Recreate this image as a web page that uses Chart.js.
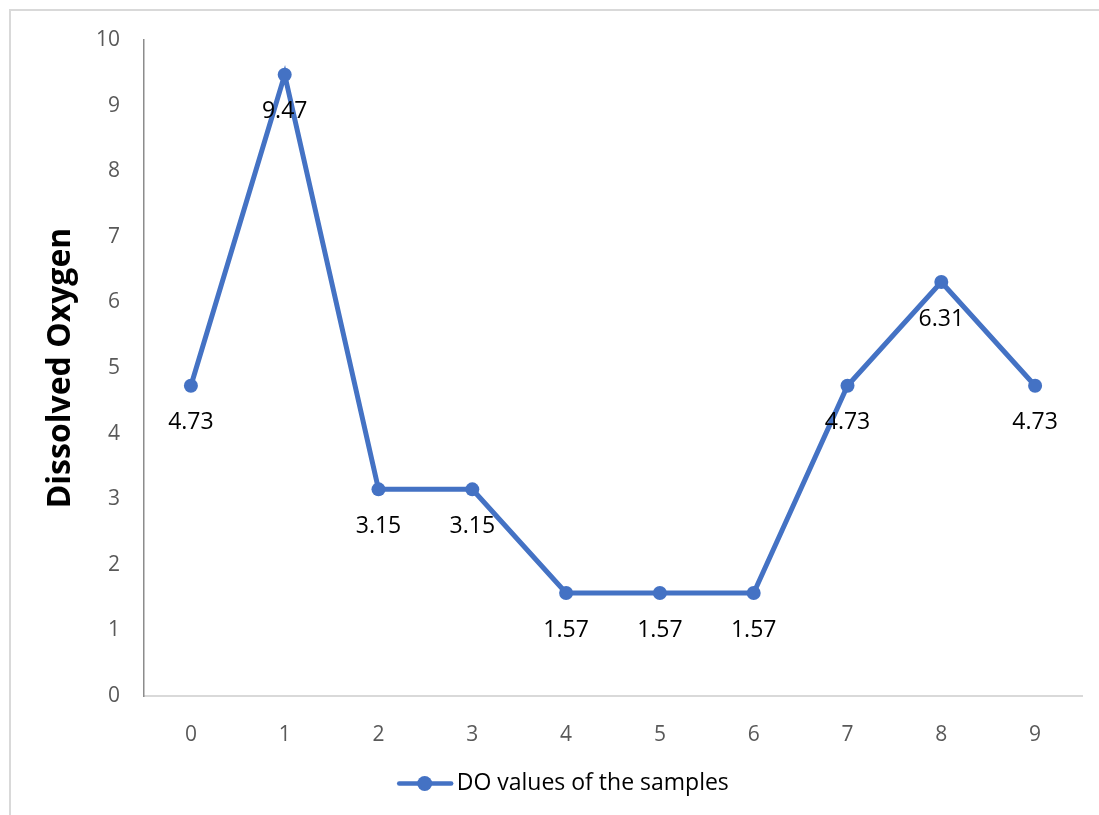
<!DOCTYPE html>
<html lang="en">
<head>
    <meta charset="UTF-8">
    <title>Dissolved Oxygen</title>
    <script src="https://cdn.jsdelivr.net/npm/chart.js"></script>
    <style>
        html, body { margin: 0; padding: 0; background: #fff; overflow: hidden; }
        .frame {
            position: absolute; left: 9px; top: 9px; width: 1300px; height: 1000px;
            border: 2px solid #d9d9d9; box-sizing: border-box;
        }
        .chart-box { position: absolute; left: 0; top: 0; width: 1099px; height: 815px; }
    </style>
</head>
<body>
    <div class="frame"></div>
    <div class="chart-box"><canvas id="doChart" width="1099" height="815"></canvas></div>

    <script>
        const sampleLabels = ["0", "1", "2", "3", "4", "5", "6", "7", "8", "9"];
        const doValues = [4.73, 9.47, 3.15, 3.15, 1.57, 1.57, 1.57, 4.73, 6.31, 4.73];
        const yTicks = [0, 1, 2, 3, 4, 5, 6, 7, 8, 9, 10];
        const seriesName = "DO values of the samples";
        const blue = "#4472C4";
        const font = "'Open Sans', 'Liberation Sans', sans-serif";

        // value labels under each point, plus the line+dot marker of the legend
        const labelPlugin = {
            id: "valueLabels",
            afterLayout(chart) {
                // legend sits a bit right of the chart centre in the original
                const lg = chart.legend;
                lg.left += 22;
                lg.right += 22;
            },
            afterDatasetsDraw(chart) {
                const ctx = chart.ctx;
                const meta = chart.getDatasetMeta(0);
                ctx.save();
                ctx.font = "23px " + font;
                ctx.fillStyle = "#000";
                ctx.textAlign = "center";
                ctx.textBaseline = "middle";
                meta.data.forEach((pt, i) => {
                    ctx.fillText(doValues[i].toFixed(2), pt.x, pt.y + 37);
                });
                ctx.restore();
            },
            afterDraw(chart) {
                const lg = chart.legend;
                if (!lg || !lg.legendHitBoxes) return;
                const ctx = chart.ctx;
                lg.legendHitBoxes.forEach(box => {
                    const x0 = box.left;
                    const cy = box.top + box.height / 2;
                    ctx.save();
                    ctx.strokeStyle = blue;
                    ctx.lineWidth = 4.5;
                    ctx.lineCap = "round";
                    ctx.beginPath();
                    ctx.moveTo(x0 + 2, cy);
                    ctx.lineTo(x0 + 54, cy);
                    ctx.stroke();
                    ctx.fillStyle = blue;
                    ctx.beginPath();
                    ctx.arc(x0 + 27.5, cy, 7.5, 0, Math.PI * 2);
                    ctx.fill();
                    ctx.restore();
                });
            }
        };

        const ctx = document.getElementById("doChart").getContext("2d");
        new Chart(ctx, {
            type: "line",
            data: {
                labels: sampleLabels,
                datasets: [{
                    label: seriesName,
                    data: doValues,
                    borderColor: blue,
                    backgroundColor: blue,
                    borderWidth: 5,
                    pointRadius: 7,
                    pointBackgroundColor: blue,
                    pointBorderWidth: 0,
                    tension: 0,
                    fill: false
                }]
            },
            options: {
                responsive: false,
                animation: false,
                layout: { padding: { left: 0, right: 17, top: 40, bottom: 10 } },
                plugins: {
                    tooltip: { enabled: false },
                    legend: {
                        position: "bottom",
                        labels: {
                            boxWidth: 48,
                            boxHeight: 5,
                            color: "#000",
                            padding: 12,
                            font: { family: font, size: 23 },
                            generateLabels(chart) {
                                return [{
                                    text: seriesName,
                                    fillStyle: "rgba(0,0,0,0)",
                                    strokeStyle: "rgba(0,0,0,0)",
                                    lineWidth: 0,
                                    hidden: false,
                                    datasetIndex: 0
                                }];
                            }
                        }
                    }
                },
                scales: {
                    x: {
                        offset: true,
                        afterFit(scale) { scale.height = 64; },
                        grid: { display: false, drawTicks: false },
                        border: { display: true, color: "#d9d9d9", width: 2 },
                        ticks: { color: "#595959", padding: 26, maxRotation: 0, font: { family: font, size: 21 } }
                    },
                    y: {
                        min: 0,
                        max: 10,
                        afterFit(scale) { scale.width = 144; },
                        afterBuildTicks(scale) { scale.ticks = yTicks.map(v => ({ value: v })); },
                        grid: { display: false, drawTicks: false },
                        border: { display: true, color: "#8c8c8c", width: 1.5 },
                        ticks: { color: "#595959", padding: 24, font: { family: font, size: 21 } },
                        title: {
                            display: true,
                            text: "Dissolved Oxygen",
                            color: "#000",
                            padding: { top: 42, bottom: 0 },
                            font: { family: font, size: 32, weight: "bold" }
                        }
                    }
                }
            },
            plugins: [labelPlugin]
        });
    </script>
</body>
</html>
